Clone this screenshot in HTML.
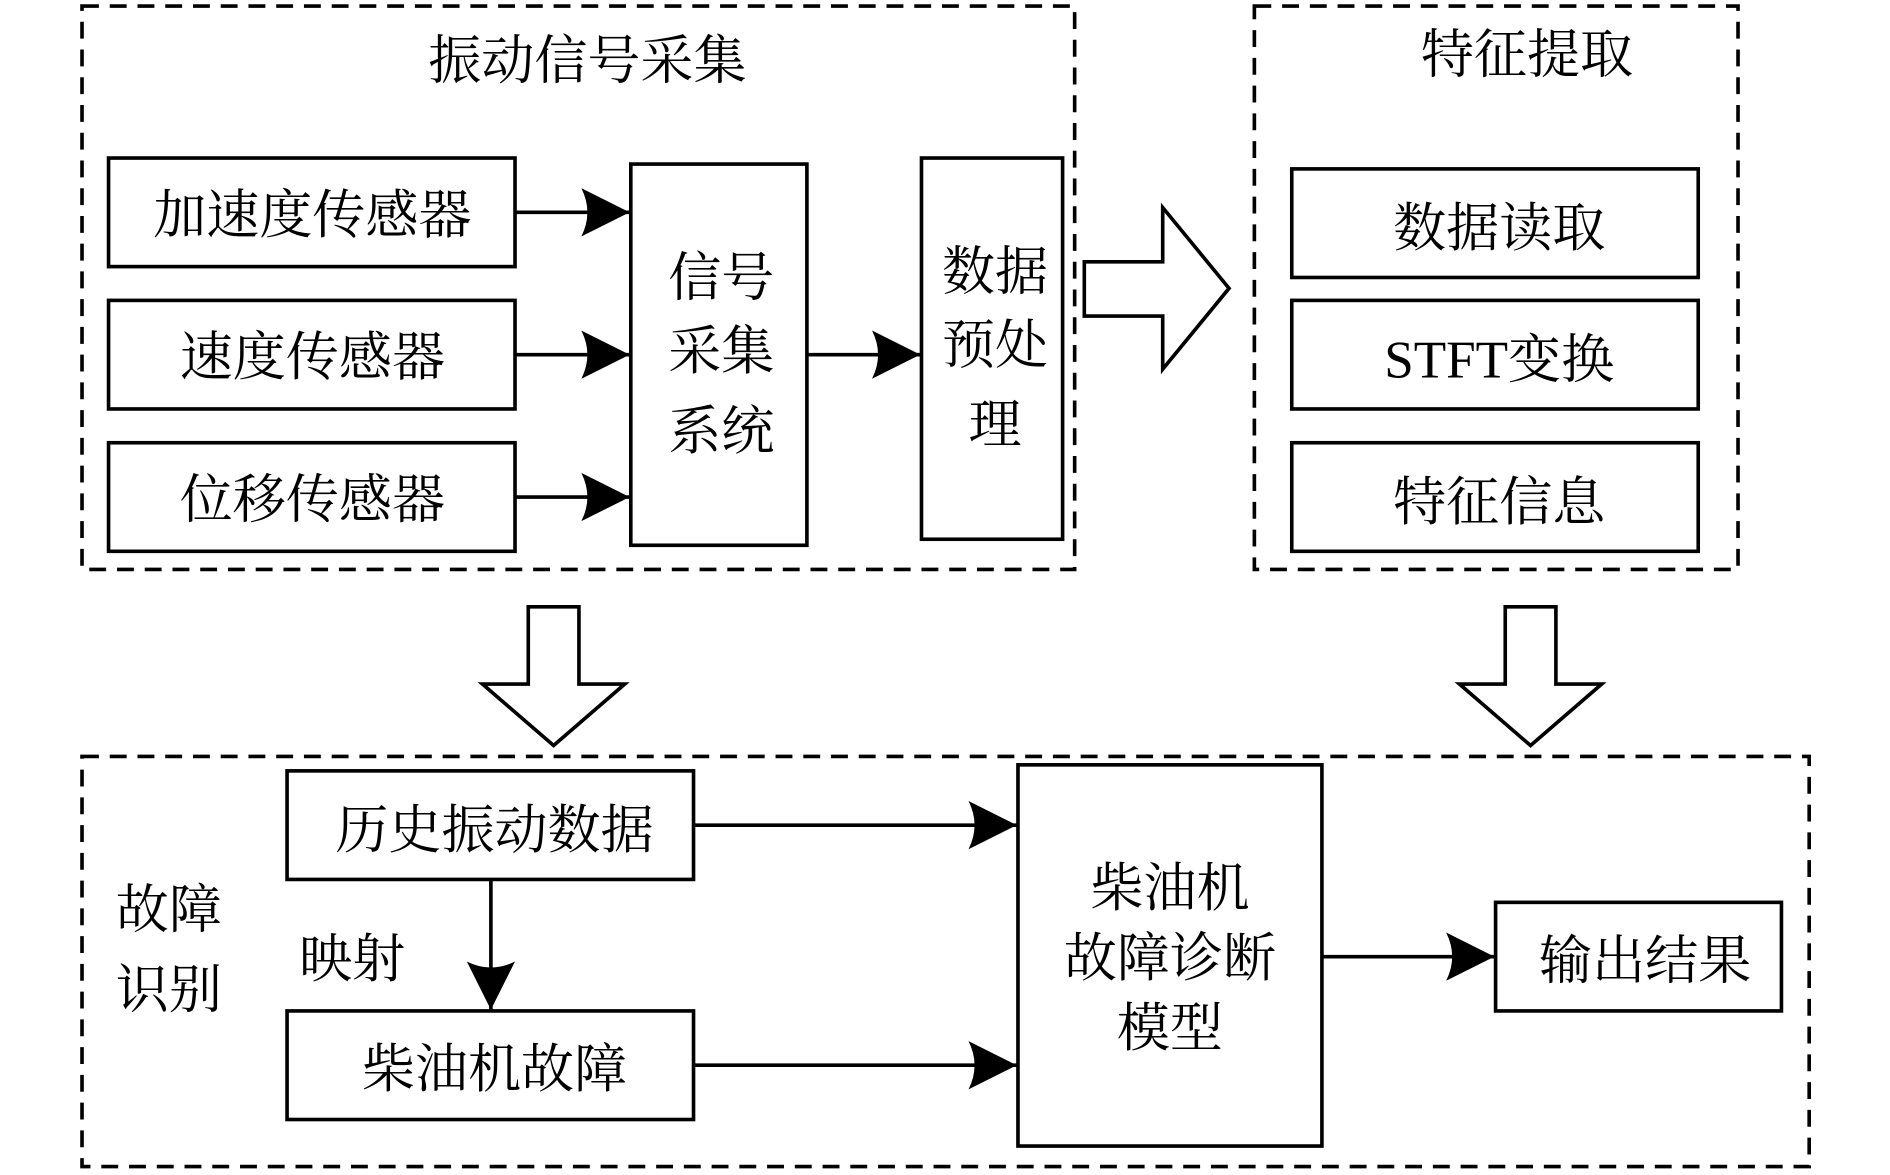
<!DOCTYPE html>
<html><head><meta charset="utf-8"><style>
html,body{margin:0;padding:0;background:#fff;}
svg{display:block}
text{font-family:"Liberation Serif","Noto Serif CJK SC",serif;fill:#000;}
</style></head><body>
<svg width="1890" height="1175" viewBox="0 0 1567 974" preserveAspectRatio="none" xmlns="http://www.w3.org/2000/svg">
<defs>
<marker id="a" viewBox="0 0 40 40" refX="40" refY="20" markerWidth="40" markerHeight="40" markerUnits="userSpaceOnUse" orient="auto">
<path d="M0,0 L40,20 L0,40 Q10,20 0,0 Z" fill="#000"/></marker>
</defs>
<g fill="none" stroke="#000" stroke-width="3" stroke-dasharray="14,9">
<rect x="68" y="5" width="823" height="467"/>
<rect x="1040" y="5" width="401" height="467"/>
<rect x="68" y="627" width="1432" height="340"/>
</g>
<g fill="#fff" stroke="#000" stroke-width="3">
<rect x="90" y="131" width="337" height="90"/>
<rect x="90" y="249" width="337" height="90"/>
<rect x="90" y="367" width="337" height="90"/>
<rect x="523" y="136" width="146" height="316"/>
<rect x="764" y="131" width="117" height="316"/>
<rect x="1071" y="140" width="337" height="90"/>
<rect x="1071" y="249" width="337" height="90"/>
<rect x="1071" y="367" width="337" height="90"/>
<rect x="238" y="639" width="337" height="90"/>
<rect x="238" y="838" width="337" height="90"/>
<rect x="844" y="634" width="252" height="316"/>
<rect x="1240" y="748" width="237" height="90"/>
<path d="M899,217 H964 V172 L1019,239 L964,306 V262 H899 Z"/>
<path d="M438,503 H480 V567 H518 L459,618 L400,567 H438 Z"/>
<path d="M1248,503 H1290 V567 H1328 L1269,618 L1210,567 H1248 Z"/>
</g>
<g stroke="#000" stroke-width="3" marker-end="url(#a)">
<line x1="427" y1="176" x2="522" y2="176"/>
<line x1="427" y1="294" x2="522" y2="294"/>
<line x1="427" y1="412" x2="522" y2="412"/>
<line x1="669" y1="294" x2="763" y2="294"/>
<line x1="575" y1="684" x2="843" y2="684"/>
<line x1="575" y1="883" x2="843" y2="883"/>
<line x1="1096" y1="793" x2="1239" y2="793"/>
<line x1="407" y1="729" x2="407" y2="837"/>
</g>
<g font-size="44" text-anchor="middle">
<text x="487" y="65">振动信号采集</text>
<text x="1266" y="60">特征提取</text>
<text x="259" y="193">加速度传感器</text>
<text x="259" y="311">速度传感器</text>
<text x="259" y="429">位移传感器</text>
<text x="598" y="245">信号</text>
<text x="598" y="306">采集</text>
<text x="598" y="372">系统</text>
<text x="825" y="240">数据</text>
<text x="825" y="301">预处</text>
<text x="825" y="367">理</text>
<text x="1243" y="204">数据读取</text>
<text x="1243" y="313">STFT变换</text>
<text x="1243" y="431">特征信息</text>
<text x="410" y="703">历史振动数据</text>
<text x="410" y="901">柴油机故障</text>
<text x="970" y="751">柴油机</text>
<text x="970" y="809">故障诊断</text>
<text x="970" y="867">模型</text>
<text x="1364" y="811">输出结果</text>
<text x="140" y="769">故障</text>
<text x="140" y="835">识别</text>
<text x="292" y="810">映射</text>
</g>
</svg>
</body></html>
